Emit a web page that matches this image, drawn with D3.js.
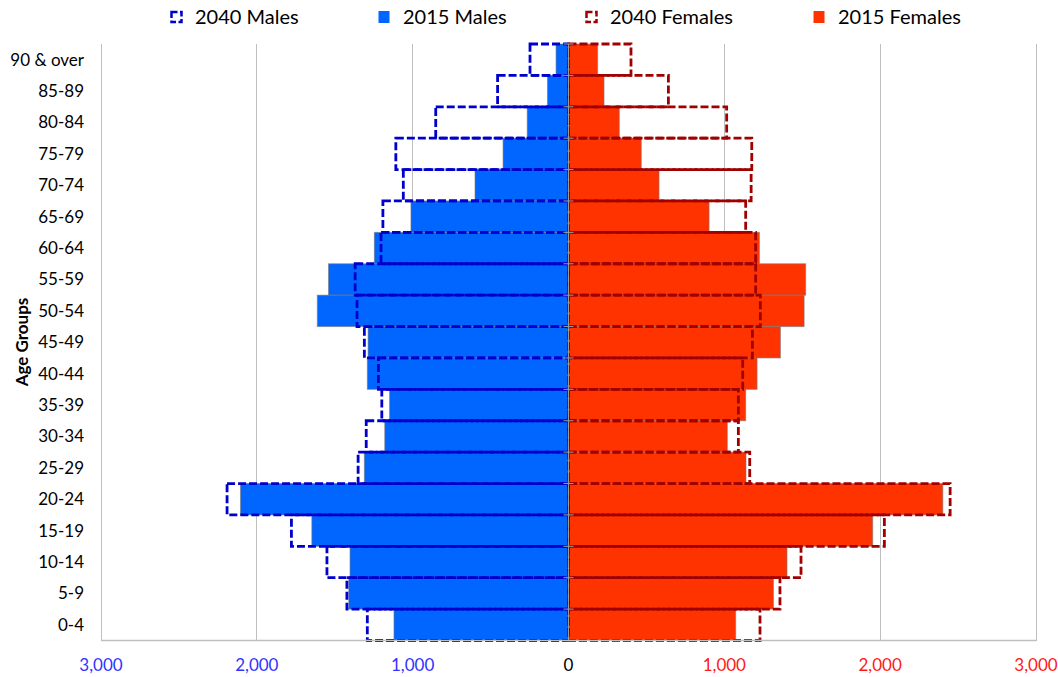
<!DOCTYPE html>
<html><head><meta charset="utf-8">
<script src="https://cdn.jsdelivr.net/npm/d3@7"></script>
<style>html,body{margin:0;padding:0;background:#fff;}svg{display:block;}</style>
</head><body>
<svg id="chart" width="1058" height="677"></svg>
<script>
const categories = ["90 & over","85-89","80-84","75-79","70-74","65-69","60-64","55-59","50-54","45-49","40-44","35-39","30-34","25-29","20-24","15-19","10-14","5-9","0-4"];
const males2015   = [80,135,265,420,600,1011,1246,1540,1612,1286,1291,1148,1179,1310,2105,1647,1402,1410,1120];
const males2040   = [247,455,852,1108,1060,1191,1203,1369,1357,1310,1220,1198,1298,1350,2191,1778,1550,1422,1291];
const females2015 = [187,228,326,467,581,902,1225,1522,1512,1360,1210,1137,1019,1139,2402,1952,1402,1315,1073];
const females2040 = [401,641,1015,1176,1172,1137,1201,1201,1231,1180,1118,1090,1090,1163,2449,2027,1492,1357,1229];
const xTicks = [-3000,-2000,-1000,0,1000,2000,3000];
const legendItems = [
  {label:"2040 Males", type:"outline", color:"#0000CC"},
  {label:"2015 Males", type:"fill", color:"#0066FF"},
  {label:"2040 Females", type:"outline", color:"#A00000"},
  {label:"2015 Females", type:"fill", color:"#FF3300"}
];

const svg = d3.select("#chart");
const font = "Lato, 'Open Sans', sans-serif";
const x = d3.scaleLinear().domain([-3000,3000]).range([101,1036]);
const y = d3.scaleBand().domain(categories).range([44,640.5]).padding(0);

// gridlines
svg.append("g").selectAll("line").data(xTicks).join("line")
  .attr("x1",d=>x(d)).attr("x2",d=>x(d)).attr("y1",y.range()[0]).attr("y2",y.range()[1])
  .attr("stroke","#BFBFBF").attr("stroke-width",1).attr("shape-rendering","crispEdges");

const rows = categories.map((c,i)=>({c, m15:males2015[i], m40:males2040[i], f15:females2015[i], f40:females2040[i]}));

// 2015 filled bars
svg.append("g").selectAll("rect").data(rows).join("rect")
  .attr("x",d=>x(-d.m15)).attr("width",d=>x(0)-x(-d.m15))
  .attr("y",d=>y(d.c)).attr("height",y.bandwidth())
  .attr("fill","#0066FF").attr("stroke","rgba(120,120,120,0.6)").attr("stroke-width",1);
svg.append("g").selectAll("rect").data(rows).join("rect")
  .attr("x",x(0)).attr("width",d=>x(d.f15)-x(0))
  .attr("y",d=>y(d.c)).attr("height",y.bandwidth())
  .attr("fill","#FF3300").attr("stroke","rgba(120,120,120,0.6)").attr("stroke-width",1);

// 2040 outline bars
svg.append("g").selectAll("rect").data(rows).join("rect")
  .attr("x",d=>x(-d.m40)).attr("width",d=>x(0)-x(-d.m40))
  .attr("y",d=>y(d.c)).attr("height",y.bandwidth())
  .attr("fill","none").attr("stroke","#0000CC").attr("stroke-width",2.8).attr("stroke-dasharray","8,3");
svg.append("g").selectAll("rect").data(rows).join("rect")
  .attr("x",x(0)).attr("width",d=>x(d.f40)-x(0))
  .attr("y",d=>y(d.c)).attr("height",y.bandwidth())
  .attr("fill","none").attr("stroke","#A00000").attr("stroke-width",2.8).attr("stroke-dasharray","8,3");

// category axis at zero
const cat = svg.append("g");
cat.append("line").attr("x1",x(0)).attr("x2",x(0)).attr("y1",y.range()[0]).attr("y2",y.range()[1])
  .attr("stroke","#9A9A9A").attr("stroke-width",1);
cat.selectAll("line.t").data(categories.concat([null])).join("line").attr("class","t")
  .attr("x1",x(0)-5).attr("x2",x(0)+5)
  .attr("y1",(d,i)=>y.range()[0]+i*y.step()).attr("y2",(d,i)=>y.range()[0]+i*y.step())
  .attr("stroke","#9A9A9A").attr("stroke-width",1);

// bottom axis
svg.append("line").attr("x1",x(-3000)).attr("x2",x(3000)).attr("y1",640.5).attr("y2",640.5)
  .attr("stroke","#BFBFBF").attr("stroke-width",1.5);
svg.append("g").selectAll("text").data(xTicks).join("text")
  .attr("x",d=>x(d)).attr("y",671).attr("text-anchor","middle")
  .attr("font-family",font).attr("font-size",17)
  .attr("fill",d=>d<0?"#3333FF":(d>0?"#FF1A1A":"#000"))
  .text(d=>d3.format(",")(Math.abs(d)));

// y labels
svg.append("g").selectAll("text").data(categories).join("text")
  .attr("x",84).attr("y",d=>y(d)+y.bandwidth()/2).attr("dy","0.35em").attr("text-anchor","end")
  .attr("font-family",font).attr("font-size",17).attr("fill","#000").text(d=>d);

svg.append("text").attr("transform","translate(28,342) rotate(-90)").attr("text-anchor","middle")
  .attr("font-family",font).attr("font-size",17).attr("font-weight","bold").text("Age Groups");

// legend
const lx = [170,378,585,813];
const lg = svg.append("g").selectAll("g").data(legendItems).join("g")
  .attr("transform",(d,i)=>`translate(${lx[i]},11)`);
lg.each(function(d){
  const g = d3.select(this);
  if(d.type==="fill") g.append("rect").attr("x",0.5).attr("y",0).attr("width",11).attr("height",12).attr("fill",d.color);
  else g.append("rect").attr("x",1.5).attr("y",1).attr("width",10).attr("height",10).attr("fill","none")
        .attr("stroke",d.color).attr("stroke-width",2.5).attr("stroke-dasharray","6,2.5");
  g.append("text").attr("x",25).attr("y",6).attr("dy","0.35em").attr("font-family",font).attr("font-size",20).text(d.label);
});
</script>
</body></html>
